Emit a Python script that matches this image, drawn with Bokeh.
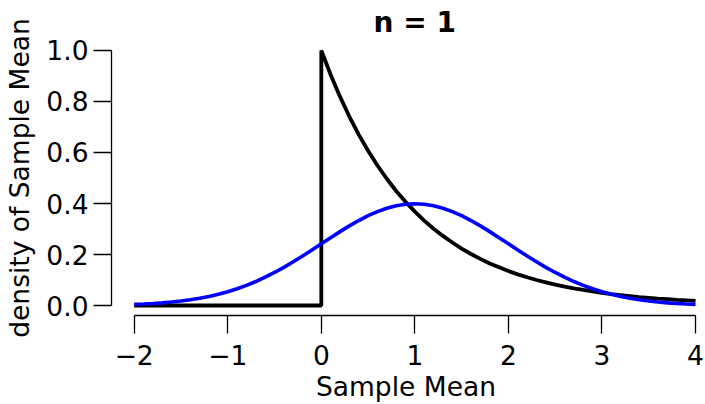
from bokeh.plotting import figure
from bokeh.models import Range1d, FixedTicker, PrintfTickFormatter
from bokeh.embed import file_html
from bokeh.resources import INLINE

# ---- data ----
title_text = "n = 1"
x_label = "Sample Mean"
y_label = "density of Sample Mean"

x_ticks = [-2, -1, 0, 1, 2, 3, 4]
x_tick_labels = ["\u22122", "\u22121", "0", "1", "2", "3", "4"]
y_ticks = [0.0, 0.2, 0.4, 0.6, 0.8, 1.0]

# black curve: population (exponential) density
black_x = [-2.0, 0.0, 0.0, 0.1, 0.2, 0.3, 0.4, 0.5, 0.6, 0.7, 0.8, 0.9, 1.0,
           1.1, 1.2, 1.3, 1.4, 1.5, 1.6, 1.7, 1.8, 1.9, 2.0,
           2.1, 2.2, 2.3, 2.4, 2.5, 2.6, 2.7, 2.8, 2.9, 3.0,
           3.1, 3.2, 3.3, 3.4, 3.5, 3.6, 3.7, 3.8, 3.9, 4.0]
black_y = [0.0, 0.0, 1.000, 0.905, 0.819, 0.741, 0.670, 0.607, 0.549, 0.497, 0.449, 0.407, 0.368,
           0.333, 0.301, 0.273, 0.247, 0.223, 0.202, 0.183, 0.165, 0.150, 0.135,
           0.122, 0.111, 0.100, 0.091, 0.082, 0.074, 0.067, 0.061, 0.055, 0.050,
           0.045, 0.041, 0.037, 0.033, 0.030, 0.027, 0.025, 0.022, 0.020, 0.018]

# blue curve: normal approximation
blue_x = [-2.0, -1.9, -1.8, -1.7, -1.6, -1.5, -1.4, -1.3, -1.2, -1.1, -1.0,
          -0.9, -0.8, -0.7, -0.6, -0.5, -0.4, -0.3, -0.2, -0.1, 0.0,
          0.1, 0.2, 0.3, 0.4, 0.5, 0.6, 0.7, 0.8, 0.9, 1.0,
          1.1, 1.2, 1.3, 1.4, 1.5, 1.6, 1.7, 1.8, 1.9, 2.0,
          2.1, 2.2, 2.3, 2.4, 2.5, 2.6, 2.7, 2.8, 2.9, 3.0,
          3.1, 3.2, 3.3, 3.4, 3.5, 3.6, 3.7, 3.8, 3.9, 4.0]
blue_y = [0.0044, 0.0060, 0.0079, 0.0104, 0.0136, 0.0175, 0.0224, 0.0283, 0.0355, 0.0440, 0.0540,
          0.0656, 0.0790, 0.0940, 0.1109, 0.1295, 0.1497, 0.1714, 0.1942, 0.2179, 0.2420,
          0.2661, 0.2897, 0.3123, 0.3332, 0.3521, 0.3683, 0.3814, 0.3910, 0.3970, 0.3989,
          0.3970, 0.3910, 0.3814, 0.3683, 0.3521, 0.3332, 0.3123, 0.2897, 0.2661, 0.2420,
          0.2179, 0.1942, 0.1714, 0.1497, 0.1295, 0.1109, 0.0940, 0.0790, 0.0656, 0.0540,
          0.0440, 0.0355, 0.0283, 0.0224, 0.0175, 0.0136, 0.0104, 0.0079, 0.0060, 0.0044]

FONT = "DejaVu Sans"

p = figure(width=705, height=404, output_backend="svg", toolbar_location=None,
           x_range=Range1d(-2.2426, 4.053), y_range=Range1d(-0.0392, 1.0392),
           min_border_left=111, min_border_right=5, min_border_top=40, min_border_bottom=89)
p.outline_line_color = None
p.xgrid.visible = False
p.ygrid.visible = False
p.background_fill_color = "white"
p.border_fill_color = "white"

p.line(black_x, black_y, line_color="black", line_width=3.8)
p.line(blue_x, blue_y, line_color="#0000ff", line_width=3.6)

# title
p.title.text = title_text
p.title.text_font = FONT
p.title.text_font_size = "28px"
p.title.text_font_style = "bold"
p.title.text_color = "black"
p.title.align = "left"
p.title.offset = 262
p.title.standoff = 0
p.title.vertical_align = "top"

for ax in (p.xaxis[0], p.yaxis[0]):
    ax.axis_line_color = "black"
    ax.axis_line_width = 1.3
    ax.major_tick_line_color = "black"
    ax.major_tick_line_width = 1.3
    ax.major_tick_out = 18
    ax.major_tick_in = 0
    ax.minor_tick_line_color = None
    ax.major_label_text_font = FONT
    ax.major_label_text_font_size = "26.5px"
    ax.major_label_text_color = "black"
    ax.axis_label_text_font = FONT
    ax.axis_label_text_font_size = "26.5px"
    ax.axis_label_text_font_style = "normal"
    ax.axis_label_text_color = "black"

xa = p.xaxis[0]
xa.ticker = FixedTicker(ticks=x_ticks)
xa.major_label_overrides = {t: l for t, l in zip(x_ticks, x_tick_labels)}
xa.bounds = (x_ticks[0], x_ticks[-1])
xa.axis_label = x_label
xa.major_label_standoff = 11
xa.axis_label_standoff = 3

ya = p.yaxis[0]
ya.ticker = FixedTicker(ticks=y_ticks)
ya.formatter = PrintfTickFormatter(format="%.1f")
ya.bounds = (y_ticks[0], y_ticks[-1])
ya.axis_label = y_label
ya.major_label_standoff = 5
ya.axis_label_standoff = 8

open("out.html", "w").write(file_html(p, INLINE))
